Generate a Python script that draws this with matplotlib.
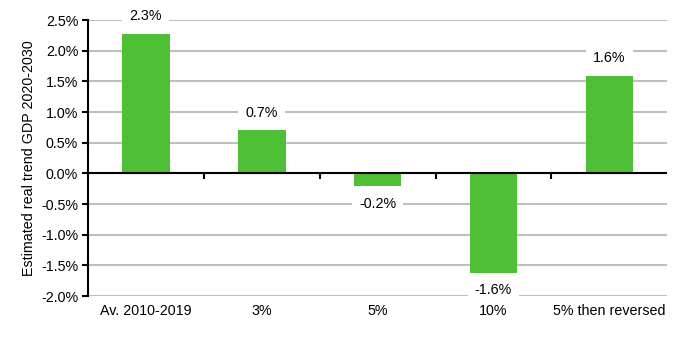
import matplotlib
matplotlib.use("Agg")
import matplotlib.pyplot as plt
from matplotlib.ticker import FuncFormatter

categories = ["Av. 2010-2019", "3%", "5%", "10%", "5% then reversed"]
values = [2.28, 0.70, -0.21, -1.62, 1.59]
labels = ["2.3%", "0.7%", "-0.2%", "-1.6%", "1.6%"]
yticks = [-2.0, -1.5, -1.0, -0.5, 0.0, 0.5, 1.0, 1.5, 2.0, 2.5]

plt.rcParams['font.family'] = ['Liberation Sans', 'DejaVu Sans']
plt.rcParams['font.size'] = 10.3

fig = plt.figure(figsize=(6.98, 3.42), dpi=100)
ax = fig.add_axes([0.126, 0.1345, 0.83, 0.807])

x = list(range(len(categories)))
ax.bar(x, values, width=0.41, color="#4fbf37", zorder=2)

ax.set_xlim(-0.5, len(categories) - 0.5)
ax.set_ylim(-2.0, 2.5)
ax.set_yticks(yticks)
ax.yaxis.set_major_formatter(FuncFormatter(lambda v, p: f"{v:.1f}%"))
ax.yaxis.grid(True, color="#bfbfbf", linewidth=1.5, zorder=0)
ax.set_axisbelow(True)
ax.tick_params(axis='y', direction='out', length=4, width=1.5, color='black', pad=3)

ax.set_xticks(x)
ax.set_xticklabels(categories)
ax.tick_params(axis='x', length=0, pad=6)

for s in ['top', 'right', 'bottom']:
    ax.spines[s].set_visible(False)
ax.spines['left'].set_linewidth(1.5)

# zero line with boundary ticks
ax.axhline(0, color='black', linewidth=1.5, zorder=3)
sec = ax.secondary_xaxis(2.0 / 4.5)
sec.set_xticks([i + 0.5 for i in range(len(categories) - 1)])
sec.set_xticklabels([])
sec.tick_params(axis='x', direction='out', length=4, width=1.5, color='black')
sec.spines['bottom'].set_visible(False)

for xi, v, lab in zip(x, values, labels):
    off = 12.5 if v >= 0 else -12.5
    ax.annotate(lab, (xi, v), xytext=(0, off), textcoords='offset points',
                ha='center', va='center',
                bbox=dict(boxstyle='square,pad=0.5', fc='white', ec='none'),
                zorder=4)

ax.set_ylabel("Estimated real trend GDP 2020-2030", labelpad=4)

fig.savefig("out.png", dpi=100)
